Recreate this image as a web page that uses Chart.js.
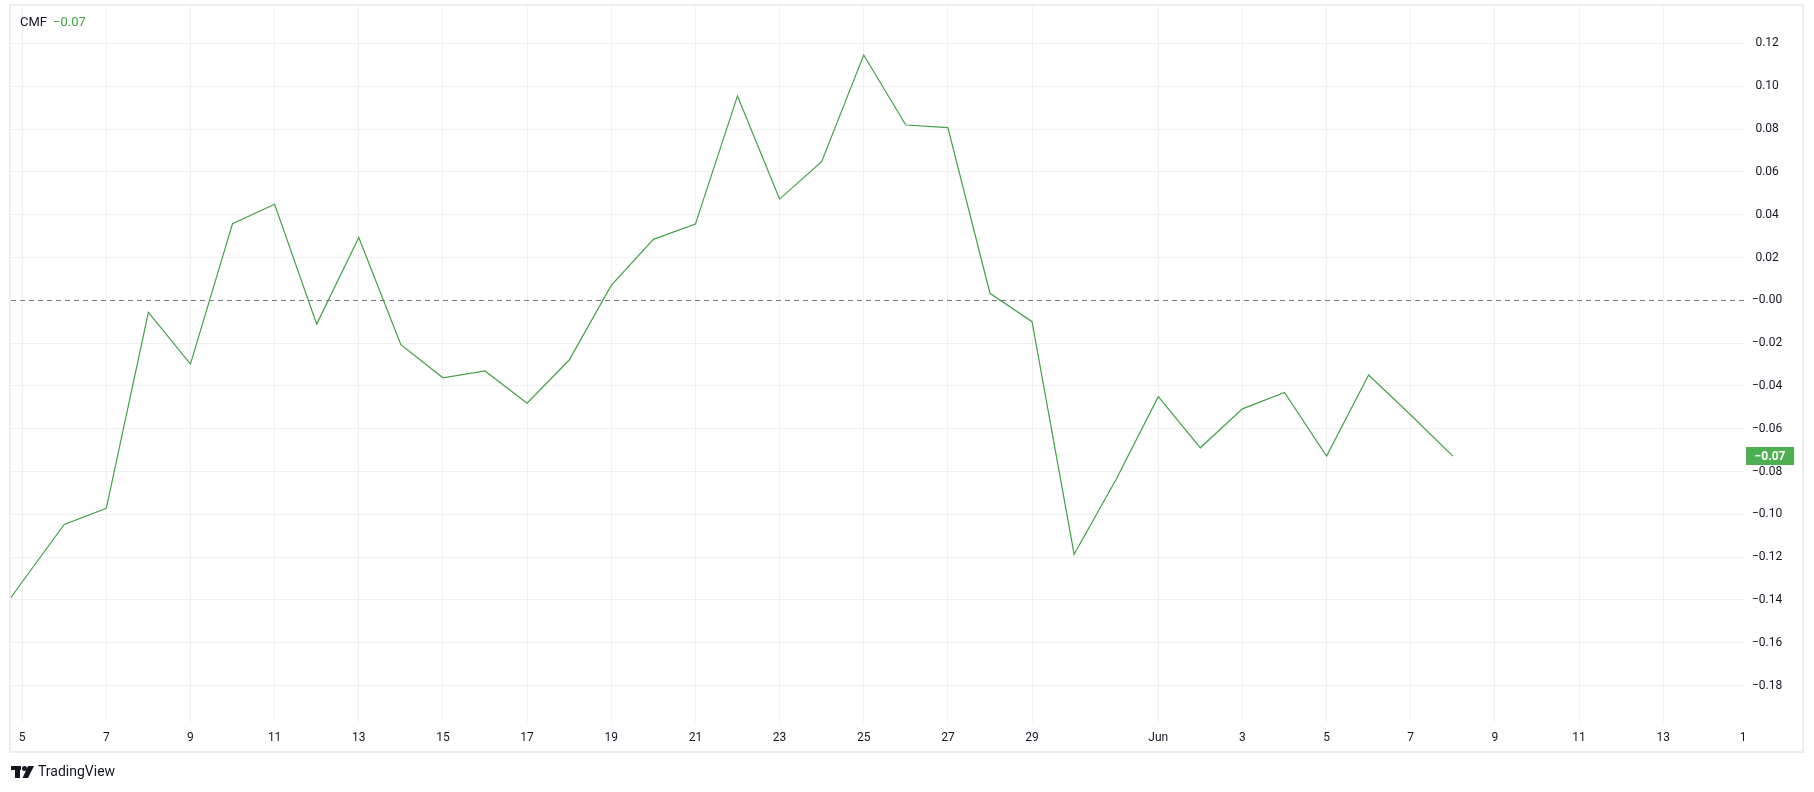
<!DOCTYPE html>
<html><head><meta charset="utf-8">
<script src="https://cdn.jsdelivr.net/npm/chart.js"></script>
<style>html,body{margin:0;padding:0;background:#fff;overflow:hidden}</style>
</head><body>
<canvas id="c" width="1814" height="792"></canvas>
<script>
// ---- data ----
const seriesName = 'CMF';
const dates = [
  '2024-05-04','2024-05-05','2024-05-06','2024-05-07','2024-05-08','2024-05-09','2024-05-10',
  '2024-05-11','2024-05-12','2024-05-13','2024-05-14','2024-05-15','2024-05-16','2024-05-17',
  '2024-05-18','2024-05-19','2024-05-20','2024-05-21','2024-05-22','2024-05-23','2024-05-24',
  '2024-05-25','2024-05-26','2024-05-27','2024-05-28','2024-05-29','2024-05-30','2024-05-31',
  '2024-06-01','2024-06-02','2024-06-03','2024-06-04','2024-06-05','2024-06-06','2024-06-07',
  '2024-06-08'
];
const cmf = [
  -0.159,-0.1316,-0.1047,-0.0972,-0.0056,-0.0298,0.0358,
  0.0449,-0.0111,0.0293,-0.0207,-0.0362,-0.0330,-0.0481,
  -0.0279,0.0070,0.0285,0.0356,0.0955,0.0473,0.0648,
  0.1146,0.0819,0.0807,0.0033,-0.0100,-0.1186,-0.0836,
  -0.0450,-0.0689,-0.0507,-0.0430,-0.0728,-0.0349,-0.0536,
  -0.0728
];
// x ticks: day number counted from May 1 (= 1)
const xTickDays   = [5,7,9,11,13,15,17,19,21,23,25,27,29,32,34,36,38,40,42,44,45.9];
const xTickLabels = ['5','7','9','11','13','15','17','19','21','23','25','27','29','Jun','3','5','7','9','11','13','1'];
const yTickValues = [-0.18,-0.16,-0.14,-0.12,-0.10,-0.08,-0.06,-0.04,-0.02,0,0.02,0.04,0.06,0.08,0.10,0.12];

// ---- styles ----
const GREEN = '#43a047';
const BADGE = '#4caf50';
const TEXT = '#131722';
const GRID = 'rgba(42,46,57,0.07)';
const FONT = 'Roboto, "Noto Sans", sans-serif';

const base = Date.UTC(2024,4,1);
const points = dates.map((d,i)=>({x: (Date.parse(d+'T00:00:00Z')-base)/86400000 + 1, y: cmf[i]}));
const lastVal = cmf[cmf.length-1];
const fmt = v => { const a = Math.abs(v).toFixed(2); return (v < 0 || Math.abs(v) < 1e-9) ? '\u2212' + a : a; };

const extras = {
  id: 'extras',
  beforeDatasetsDraw(chart) {
    const {ctx, chartArea: a, scales: {y}} = chart;
    const y0 = Math.round(y.getPixelForValue(0)) + 0.5;
    ctx.save();
    ctx.strokeStyle = '#787b86';
    ctx.lineWidth = 1;
    ctx.setLineDash([5,4]);
    ctx.beginPath(); ctx.moveTo(a.left, y0); ctx.lineTo(a.right, y0); ctx.stroke();
    ctx.restore();
  },
  afterDraw(chart) {
    const {ctx, scales: {y}} = chart;
    ctx.save();
    // panel border
    ctx.strokeStyle = '#eeeeee';
    ctx.lineWidth = 2;
    ctx.strokeRect(10, 5, 1793, 747);
    // legend
    ctx.textBaseline = 'middle';
    ctx.textAlign = 'left';
    ctx.font = '13px ' + FONT;
    ctx.fillStyle = TEXT;
    ctx.fillText(seriesName, 20, 23);
    ctx.fillStyle = GREEN;
    ctx.fillText(fmt(lastVal), 53, 23);
    // last value badge
    const py = y.getPixelForValue(lastVal);
    ctx.fillStyle = BADGE;
    ctx.fillRect(1746, Math.round(py) - 9, 48, 18);
    ctx.fillStyle = '#ffffff';
    ctx.font = 'bold 12px ' + FONT;
    ctx.textAlign = 'center';
    ctx.fillText(fmt(lastVal), 1770, Math.round(py) + 0.5);
    // TradingView logo mark
    ctx.fillStyle = TEXT;
    ctx.fillRect(11, 766, 10, 4);
    ctx.fillRect(15, 766, 5, 12);
    ctx.beginPath(); ctx.arc(24.5, 768.5, 2.5, 0, Math.PI*2); ctx.fill();
    ctx.beginPath();
    ctx.moveTo(28, 766); ctx.lineTo(34, 766); ctx.lineTo(28, 778); ctx.lineTo(22.5, 778);
    ctx.closePath(); ctx.fill();
    ctx.textAlign = 'left';
    ctx.font = '14px ' + FONT;
    ctx.fillStyle = TEXT;
    ctx.fillText('TradingView', 38, 772);
    ctx.restore();
  }
};

const noPad = s => { s.paddingTop = 0; s.paddingBottom = 0; s.paddingLeft = 0; s.paddingRight = 0; };

new Chart(document.getElementById('c'), {
  type: 'line',
  data: { datasets: [{
    label: seriesName, data: points,
    borderColor: GREEN, borderWidth: 1.2, pointRadius: 0, tension: 0, fill: false, clip: 0
  }]},
  options: {
    responsive: false, animation: false, devicePixelRatio: 1,
    layout: { padding: { left: 11, right: 12, top: 6, bottom: 40 } },
    plugins: { legend: { display: false }, tooltip: { enabled: false } },
    scales: {
      x: {
        type: 'linear', min: 4.735, max: 45.92,
        afterBuildTicks: s => { s.ticks = xTickDays.map(v => ({value: v})); },
        afterFit: s => { s.height = 30; noPad(s); },
        grid: {
          drawTicks: false,
          color: c => (c.tick && c.tick.value === xTickDays[xTickDays.length-1]) ? 'rgba(0,0,0,0)' : GRID
        },
        border: { display: false },
        ticks: {
          autoSkip: false, maxRotation: 0, padding: 9,
          color: TEXT, font: { family: FONT, size: 12 },
          callback: (v) => { const i = xTickDays.indexOf(v); return i >= 0 ? xTickLabels[i] : ''; }
        }
      },
      y: {
        position: 'right', min: -0.197, max: 0.1375,
        afterBuildTicks: s => { s.ticks = yTickValues.map(v => ({value: v})); },
        afterFit: s => { s.width = 58; noPad(s); },
        grid: {
          drawTicks: false,
          color: c => (c.tick && Math.abs(c.tick.value) < 1e-9) ? 'rgba(0,0,0,0)' : GRID
        },
        border: { display: false },
        ticks: {
          crossAlign: 'center', padding: 8,
          color: TEXT, font: { family: FONT, size: 12 },
          callback: v => fmt(v)
        }
      }
    }
  },
  plugins: [extras]
});
</script>
</body></html>
